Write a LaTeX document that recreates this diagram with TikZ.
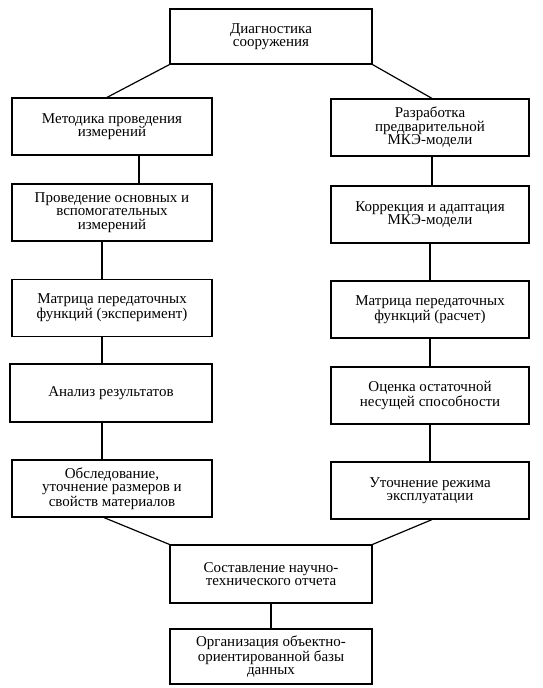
\documentclass[tikz,border=0pt]{standalone}
\usepackage{fontspec}
\setmainfont{Liberation Serif}
\begin{document}
\begin{tikzpicture}[x=1pt,y=-1pt,
  box/.style={draw=black, line width=1.2pt, rectangle, align=center, inner sep=2pt,
    font=\fontsize{15}{13.5}\selectfont},
  lbox/.style={box, minimum width=200pt, minimum height=57pt},
  rbox/.style={box, minimum width=198pt, minimum height=57pt},
  cbox/.style={box, minimum width=202pt},
  link/.style={draw=black, line width=1.2pt}]
\useasboundingbox (0,0) rectangle (542,688);
\node[cbox, minimum height=55pt] (top) at (271,36.5) {Диагностика\\сооружения};
\node[lbox] (L1) at (112,126.5) {Методика проведения\\измерений};
\node[rbox] (R1) at (430,127.5) {Разработка\\предварительной\\МКЭ-модели};
\node[lbox] (L2) at (112,212.5) {Проведение основных и\\вспомогательных\\измерений};
\node[rbox] (R2) at (430,214.5) {Коррекция и адаптация\\МКЭ-модели};
\node[lbox] (L3) at (112,308) {Матрица передаточных\\функций (эксперимент)};
\node[rbox] (R3) at (430,309.5) {Матрица передаточных\\функций (расчет)};
\node[lbox, minimum width=202pt, minimum height=58pt] (L4) at (111,393) {Анализ результатов};
\node[rbox] (R4) at (430,395.5) {Оценка остаточной\\несущей способности};
\node[lbox] (L5) at (112,488.5) {Обследование,\\уточнение размеров и\\свойств материалов};
\node[rbox] (R5) at (430,490.5) {Уточнение режима\\эксплуатации};
\node[cbox, minimum height=58pt] (B1) at (271,574) {Составление научно-\\технического отчета};
\node[cbox, minimum height=55pt] (B2) at (271,656.5) {Организация объектно-\\ориентированной базы\\данных};
\draw[link] (top.south west) -- ([xshift=-5pt]L1.north);
\draw[link] (top.south east) -- ([xshift=2pt]R1.north);
\draw[link] ([xshift=27pt]L1.south) -- ([xshift=27pt]L2.north);
\draw[link] ([xshift=-10pt]L2.south) -- ([xshift=-10pt]L3.north);
\draw[link] ([xshift=-10pt]L3.south) -- ([xshift=-9pt]L4.north);
\draw[link] ([xshift=-9pt]L4.south) -- ([xshift=-10pt]L5.north);
\draw[link] ([xshift=2pt]R1.south) -- ([xshift=2pt]R2.north);
\draw[link] (R2.south) -- (R3.north);
\draw[link] (R3.south) -- (R4.north);
\draw[link] (R4.south) -- (R5.north);
\draw[link] ([xshift=-8pt]L5.south) -- (B1.north west);
\draw[link] ([xshift=2pt]R5.south) -- (B1.north east);
\draw[link] (B1.south) -- (B2.north);
\end{tikzpicture}
\end{document}
